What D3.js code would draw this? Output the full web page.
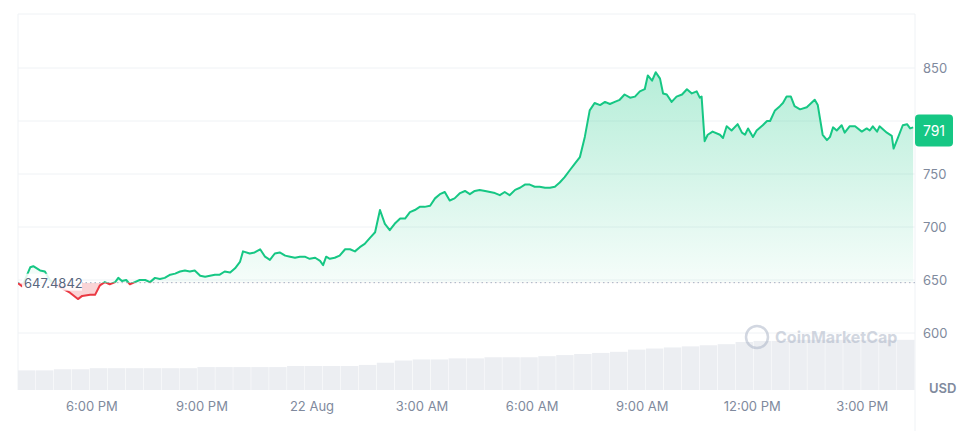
<!DOCTYPE html>
<html>
<head>
<meta charset="utf-8">
<script src="https://cdn.jsdelivr.net/npm/d3@7"></script>
<style>
  body { margin: 0; background: #fff; font-family: Inter, "Noto Sans", sans-serif; }
</style>
</head>
<body>
<svg id="chart" width="967" height="431"></svg>
<script>
// minutes since 21 Aug 16:00 UTC
const priceMinutes = [0,7,20,25,36,44,52,69,85,98,105,118,126,134,142,150,159,164,170,177,183,191,199,208,216,224,232,240,249,257,265,273,281,289,298,306,314,322,330,338,347,355,363,368,379,387,396,404,412,420,428,437,445,453,461,469,477,486,494,499,504,510,518,526,535,543,551,559,567,576,584,592,600,608,616,625,633,641,649,657,665,674,682,690,698,706,714,723,731,739,747,755,764,772,780,788,796,804,813,821,829,837,845,853,862,870,878,886,894,903,911,919,927,935,943,952,960,968,976,984,992,1001,1009,1017,1025,1030,1037,1043,1050,1055,1061,1069,1077,1086,1094,1102,1110,1115,1118,1123,1128,1136,1148,1153,1159,1167,1177,1184,1189,1194,1202,1208,1218,1225,1230,1238,1246,1251,1257,1264,1270,1279,1290,1303,1308,1316,1323,1328,1333,1339,1347,1352,1360,1369,1380,1388,1393,1398,1405,1409,1421,1429,1432,1439,1447,1454,1459,1464,1467];
const priceValues = [647,644,662,663,659,658,650,643,638,632,635,636,636,645,648,646,648,652,649,650,646,648,650,650,648,652,651,652,655,656,658,659,658,659,654,653,654,655,655,658,657,661,667,677,675,676,679,672,669,675,676,673,672,671,672,672,670,671,668,664,672,670,671,673,679,679,677,681,684,690,695,716,703,697,703,708,708,714,716,719,719,720,727,731,733,725,727,732,734,731,734,735,734,733,732,730,733,730,735,737,740,740,738,738,737,737,738,742,747,754,760,766,785,810,817,815,818,816,818,820,825,822,823,828,830,843,838,846,840,826,825,818,823,825,830,826,828,822,823,781,787,790,787,784,795,791,797,789,787,793,785,791,796,800,800,810,814,817,823,823,814,811,813,820,815,787,782,785,794,791,796,789,795,795,790,793,791,795,790,795,789,786,774,784,796,797,793,794];
const volumeValues = [18,18,19,19,20,20,20,20,20,20,21,21,21,21,21,22,22,22,22,23,25,27,28,28,29,29,30,30,30,31,32,33,34,35,37,38,39,40,41,42,44,45,45,46,46,46,46,46,46,46];
const priceTicks = [600,650,700,750,800,850];
const timeTickHours = [2,5,8,11,14,17,20,23];
const timeTickLabels = ['6:00 PM','9:00 PM','22 Aug','3:00 AM','6:00 AM','9:00 AM','12:00 PM','3:00 PM'];
const basePrice = 647.4842;
const lastPrice = 791;

const green = '#16c784', red = '#ea3943', grey = '#808a9d';
const pL = 18, pR = 915, pT = 14, pB = 390;
const t0 = Date.UTC(2024, 7, 21, 16, 0);
const toDate = (m) => new Date(t0 + m * 60000);

const svg = d3.select('#chart');
const x = d3.scaleUtc().domain([toDate(0), toDate(1467)]).range([pL, pR]);
const y = d3.scaleLinear().domain([600, 850]).range([333, 68]);
const yv = d3.scaleLinear().domain([0, 55]).range([pB, 330]);

const n = Math.min(priceMinutes.length, priceValues.length);
const data = priceMinutes.slice(0, n).map((m, i) => ({ t: toDate(m), v: priceValues[i] }));

const defs = svg.append('defs');
const grad = defs.append('linearGradient').attr('id', 'gUp').attr('x1', 0).attr('x2', 0)
    .attr('gradientUnits', 'userSpaceOnUse').attr('y1', y(850)).attr('y2', y(basePrice));
grad.append('stop').attr('offset', 0).attr('stop-color', green).attr('stop-opacity', 0.32);
grad.append('stop').attr('offset', 1).attr('stop-color', green).attr('stop-opacity', 0.04);
defs.append('clipPath').attr('id', 'clipUp').append('rect')
    .attr('x', pL).attr('y', 0).attr('width', pR - pL).attr('height', y(basePrice));
defs.append('clipPath').attr('id', 'clipDown').append('rect')
    .attr('x', pL).attr('y', y(basePrice)).attr('width', pR - pL).attr('height', 200);

// frame + grid
svg.append('line').attr('x1', pL).attr('x2', pR).attr('y1', pT).attr('y2', pT).attr('stroke', '#eff2f5');
svg.append('line').attr('x1', pL).attr('x2', pL).attr('y1', pT).attr('y2', pB).attr('stroke', '#eff2f5');
svg.append('line').attr('x1', pR).attr('x2', pR).attr('y1', pT).attr('y2', 431).attr('stroke', '#eff2f5');
svg.append('g').selectAll('line').data(priceTicks).join('line')
    .attr('x1', pL).attr('x2', pR).attr('y1', (d) => y(d)).attr('y2', (d) => y(d))
    .attr('stroke', '#eff2f5');

// volume
const bw = (pR - pL) / volumeValues.length;
svg.append('g').selectAll('rect').data(volumeValues).join('rect')
    .attr('x', (d, i) => pL + i * bw).attr('width', bw - 0.5)
    .attr('y', (d) => yv(d)).attr('height', (d) => pB - yv(d))
    .attr('fill', '#eceef2');

// watermark
const wm = svg.append('g').attr('opacity', 0.5);
wm.append('circle').attr('cx', 757).attr('cy', 337).attr('r', 11).attr('fill', 'none').attr('stroke', '#a6b0c3').attr('stroke-width', 2.5);
wm.append('text').attr('x', 775).attr('y', 343).attr('font-size', 16).attr('font-weight', 700).attr('fill', '#a6b0c3').text('CoinMarketCap');

// areas
const area = d3.area().x((d) => x(d.t)).y0(y(basePrice)).y1((d) => y(d.v));
const line = d3.line().x((d) => x(d.t)).y((d) => y(d.v));
svg.append('path').datum(data).attr('d', area).attr('fill', 'url(#gUp)').attr('clip-path', 'url(#clipUp)');
svg.append('path').datum(data).attr('d', area).attr('fill', red).attr('fill-opacity', 0.22).attr('clip-path', 'url(#clipDown)');

// baseline
svg.append('line').attr('x1', pL).attr('x2', pR).attr('y1', y(basePrice)).attr('y2', y(basePrice))
    .attr('stroke', '#a6b0c3').attr('stroke-dasharray', '1.5,3');

svg.append('path').datum(data).attr('d', line).attr('fill', 'none').attr('stroke', green).attr('stroke-width', 2)
    .attr('stroke-linejoin', 'round').attr('clip-path', 'url(#clipUp)');
svg.append('path').datum(data).attr('d', line).attr('fill', 'none').attr('stroke', red).attr('stroke-width', 2)
    .attr('stroke-linejoin', 'round').attr('clip-path', 'url(#clipDown)');

// base label
svg.append('rect').attr('x', 22).attr('y', y(basePrice) - 9).attr('width', 60).attr('height', 17).attr('fill', '#fff').attr('opacity', 0.85);
svg.append('text').attr('x', 24).attr('y', y(basePrice) + 5).attr('font-size', 13).attr('fill', '#58667e').text(basePrice);

// axes
const yAxis = svg.append('g').attr('transform', `translate(${pR + 6},0)`)
    .call(d3.axisRight(y).tickValues(priceTicks).tickSize(0).tickPadding(2));
yAxis.select('.domain').remove();
yAxis.selectAll('text').attr('font-size', 13).attr('fill', grey).attr('font-family', 'Inter, sans-serif');

const xAxis = svg.append('g').attr('transform', `translate(0,${pB + 8})`)
    .call(d3.axisBottom(x).tickValues(timeTickHours.map((h) => toDate(h * 60)))
        .tickFormat((d, i) => timeTickLabels[i]).tickSize(0).tickPadding(4));
xAxis.select('.domain').remove();
xAxis.selectAll('text').attr('font-size', 13).attr('fill', grey).attr('font-family', 'Inter, sans-serif');

svg.append('text').attr('x', 929).attr('y', 393).attr('font-size', 13).attr('font-weight', 600).attr('fill', grey).text('USD');

// last price tag
svg.append('rect').attr('x', pR).attr('y', y(lastPrice) - 16).attr('width', 38).attr('height', 32).attr('rx', 4).attr('fill', green);
svg.append('text').attr('x', pR + 19).attr('y', y(lastPrice) + 5).attr('text-anchor', 'middle')
    .attr('font-size', 14).attr('fill', '#fff').text(lastPrice);
</script>
</body>
</html>
